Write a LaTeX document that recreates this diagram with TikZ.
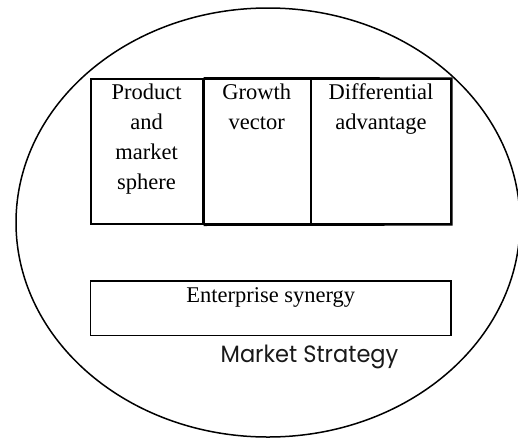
\documentclass[tikz,border=0pt]{standalone}
\usepackage{fontspec}
\setmainfont{Liberation Serif}
\newfontfamily\gothic{Poppins}
\usetikzlibrary{shapes.geometric}
\tikzset{
  boxline/.style={draw=black, line width=1.5pt, inner sep=0pt},
  coltext/.style={anchor=base, align=center, inner sep=0pt, font=\fontsize{22.5}{30}\selectfont},
}
\begin{document}
\begin{tikzpicture}[x=1pt,y=-1pt]
\useasboundingbox (0,0) rectangle (518,439);
% outer ellipse
\node[draw=black, line width=1.5pt, ellipse, minimum width=504pt, minimum height=429pt, inner sep=0pt] (outer) at (268,222.5) {};
% top box columns
\node[draw=black, line width=2pt, minimum width=112.2pt, minimum height=145pt, inner sep=0pt] (c1) at (146.6,151.5) {};
\node[draw=black, line width=1.3pt, minimum width=108.3pt, minimum height=145pt, inner sep=0pt] (c2) at (256.85,151.5) {};
\node[draw=black, line width=1.3pt, minimum width=140pt, minimum height=145pt, inner sep=0pt] (c3) at (381,151.5) {};
\draw[line width=2pt] (c1.north east) -- (c3.north east) -- (c3.south east) -- (c1.south east);
\draw[line width=2pt] (c1.north east) -- (c1.south east);
% multi-line nodes: base anchor is the baseline of the last line
\node[coltext] (t1) at ([yshift=-111pt]c1.north) {Product\\and\\market\\sphere};
\node[coltext] (t2) at ([yshift=-51pt]c2.north) {Growth\\vector};
\node[coltext] (t3) at ([yshift=-51pt]c3.north) {Differential\\advantage};
% bottom box
\node[boxline, minimum width=360.5pt, minimum height=54.7pt] (eb) at (270.75,308.35) {};
\node[coltext] (t4) at ([yshift=-22pt]eb.north) {Enterprise synergy};
% caption
\node[anchor=base, inner sep=0pt, text=black!90, font=\gothic\fontsize{22.5}{27}\selectfont, yscale=1.05] (ms) at (309.5,362.7) {Market Strategy};
\end{tikzpicture}
\end{document}
